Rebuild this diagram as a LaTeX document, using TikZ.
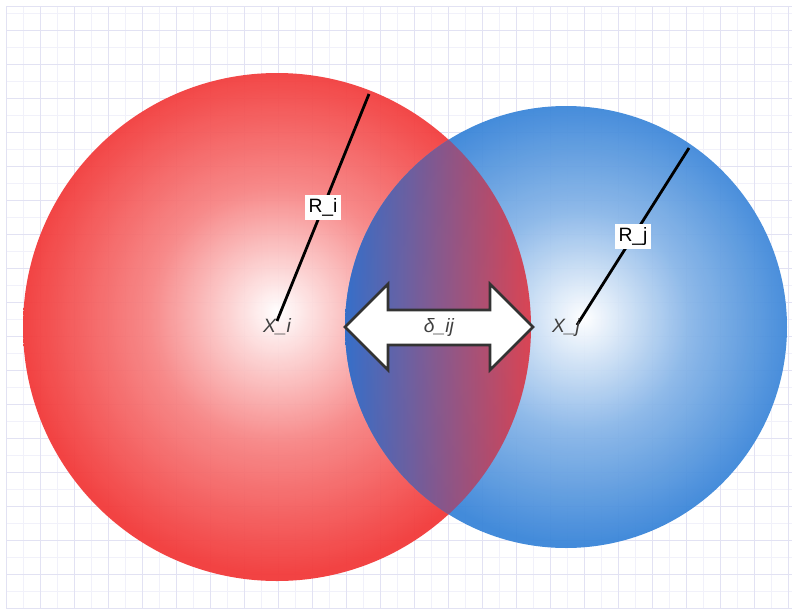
\documentclass[tikz,border=0pt]{standalone}
\usepackage{xcolor}
\usepackage{fontspec}
\setmainfont{Liberation Sans}
\usepackage{tikz}
\usetikzlibrary{calc}

\definecolor{gridlo}{HTML}{F1F1FA}
\definecolor{gridhi}{HTML}{E2E2F3}
\definecolor{redball}{HTML}{F23838}
\definecolor{blueball}{HTML}{3884D8}
\definecolor{lensblue}{HTML}{366EC8}
\definecolor{lensred}{HTML}{DC3C4A}
\colorlet{redmid}{redball!62!white}
\colorlet{bluemid}{blueball!60!white}

\pgfdeclareradialshading{redglow}{\pgfpoint{0bp}{1.5bp}}{color(0bp)=(white); color(12.5bp)=(redmid); color(25bp)=(redball); color(50bp)=(redball)}
\pgfdeclareradialshading{blueglow}{\pgfpoint{2bp}{1bp}}{color(0bp)=(white); color(12.5bp)=(bluemid); color(25bp)=(blueball); color(50bp)=(blueball)}

\begin{document}
\begin{tikzpicture}[
    x=0.02cm, y=-0.02cm,
    gridminor/.style={draw=gridlo, line width=0.4pt},
    gridmajor/.style={draw=gridhi, line width=0.5pt},
    ball/.style={opacity=0.94},
    radline/.style={line width=1.6pt, black},
    rlabel/.style={fill=white, inner sep=2.2pt, font=\fontsize{11}{13}\selectfont},
    centre/.style={font=\fontsize{11}{13}\selectfont\itshape, text=black!75, inner sep=1pt},
    gap/.style={draw=black!80, line width=1.5pt, fill=white, line join=miter}
]
\useasboundingbox (0,0) rectangle (792,609);
\fill[white] (0,0) rectangle (792,609);

% Grid
\foreach \x in {23,57,...,792} \draw[gridminor] (\x,6) -- (\x,609);
\foreach \y in {13,47,...,609} \draw[gridminor] (6,\y) -- (792,\y);
\foreach \x in {6,40,...,792} \draw[gridmajor] (\x,6) -- (\x,609);
\foreach \y in {30,64,...,609} \draw[gridmajor] (6,\y) -- (792,\y);
\draw[gridmajor] (6,6) -- (792,6);

% Spheres
\shade[ball, shading=redglow] (277,327) circle (254);
\shade[ball, shading=blueglow] (566,327) circle (221);

% Overlap
\begin{scope}
\clip (277,327) circle (254);
\clip (566,327) circle (221);
\shade[ball, left color=lensblue, right color=lensred] (345,100) rectangle (532,560);
\end{scope}

% Distance arrow
\draw[gap] (345,327) -- (388,284) -- (388,310) -- (490,310) -- (490,284) -- (533,327)
    -- (490,370) -- (490,345) -- (388,345) -- (388,370) -- cycle;
\node[centre] (delta) at (439,327) {δ\_ij};

% Radii
\coordinate (ci) at (277,321);
\coordinate (ti) at (369,94);
\coordinate (cj) at (577,325);
\coordinate (tj) at (689,148);

\draw[radline] (ci) -- node[rlabel] (ri) {R\_i} (ti);
\draw[radline] (cj) -- node[rlabel] (rj) {R\_j} (tj);

\node[centre] (xi) at (277,327) {X\_i};
\node[centre] (xj) at (566,327) {X\_j};

\end{tikzpicture}
\end{document}
